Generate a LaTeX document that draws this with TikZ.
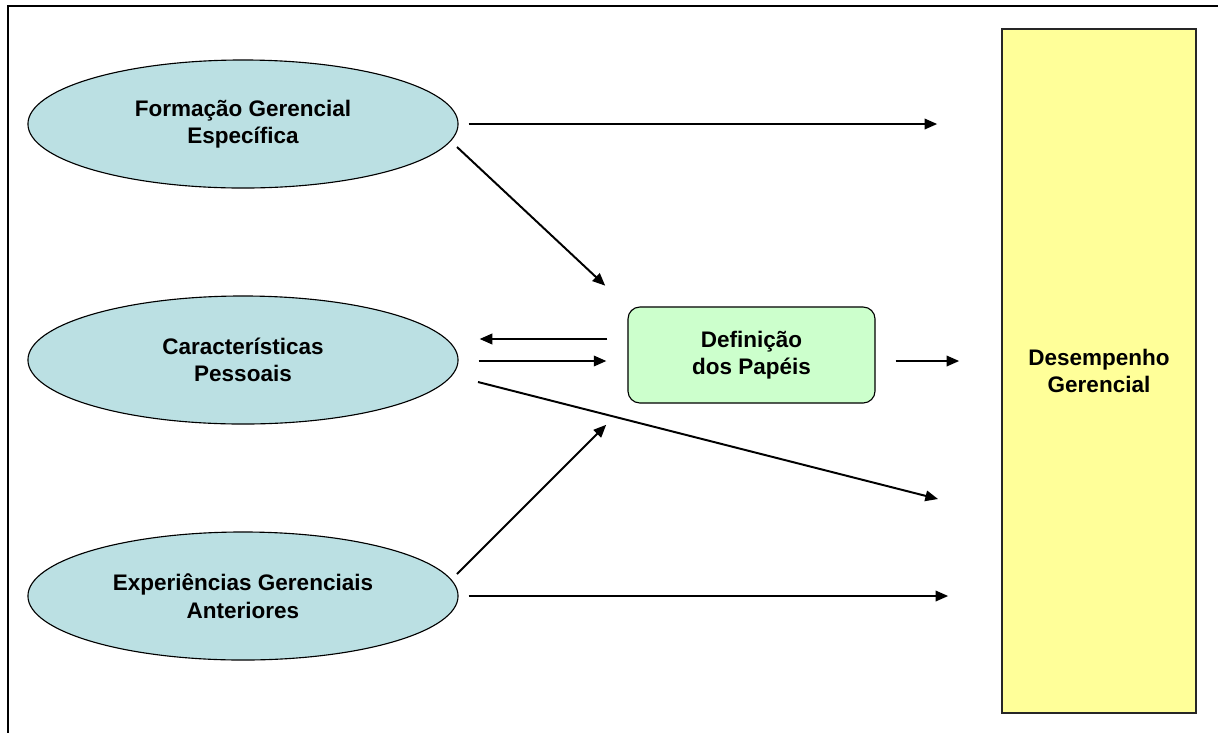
\documentclass[tikz,border=0pt]{standalone}
\usepackage{fontspec}
\setmainfont{Liberation Sans}
\usetikzlibrary{shapes.geometric,arrows.meta,positioning,calc}
\definecolor{elfill}{RGB}{187,224,227}
\definecolor{boxfill}{RGB}{204,255,204}
\definecolor{desfill}{RGB}{255,255,153}

\begin{document}
\begin{tikzpicture}[
    x=0.025cm,y=-0.025cm,
    fator/.style={ellipse,draw=black,line width=0.8pt,fill=elfill,
                  minimum width=10.75cm,minimum height=3.2cm,inner sep=0pt,
                  align=center,font=\fontsize{16}{19.5}\selectfont\bfseries},
    papel/.style={draw=black,line width=0.8pt,fill=boxfill,rounded corners=0.3cm,
                  minimum width=6.175cm,minimum height=2.4cm,align=center,
                  font=\fontsize{16}{19.5}\selectfont\bfseries},
    result/.style={draw=black!85,line width=1.1pt,fill=desfill,
                   minimum width=4.85cm,minimum height=17.1cm,align=center,
                   font=\fontsize{16}{19.5}\selectfont\bfseries},
    arr/.style={-{Triangle[length=9pt,width=7.5pt]},line width=1.4pt,black}
  ]
    \useasboundingbox (0,0) rectangle (1218,733);
    \draw[line width=1.6pt] (1218,6) -- (8,6) -- (8,733);

    \node[fator] (form) at (243,124) {Formação Gerencial\\Específica};
    \node[fator] (carac) at (243,360) {Características\\Pessoais};
    \node[fator] (exper) at (243,596) {Experiências Gerenciais\\Anteriores};
    \node[papel] (defin) at (751.5,355) {Definição\\dos Papéis};
    \node[result] (desemp) at (1099,371) {Desempenho\\Gerencial};

    % pontas soltas das setas diagonais
    \coordinate (formsai) at (457,147);
    \coordinate (caracsai) at (478,382);
    \coordinate (caracfim) at (938,499);
    \coordinate (expersai) at (457,574);

    \draw[arr,shorten <=0.25cm,shorten >=1.6cm] (form.east) -- (form.east -| desemp.west);
    \draw[arr,shorten >=0.76cm] (formsai) -- (defin.north west);
    \draw[arr,shorten <=0.5cm,shorten >=0.525cm]
      ([yshift=0.4cm]defin.west) -- ([yshift=0.4cm]defin.west -| carac.east);
    \draw[arr,shorten <=0.5cm,shorten >=0.525cm]
      ([yshift=-0.15cm]defin.west -| carac.east) -- ([yshift=-0.15cm]defin.west);
    \draw[arr,shorten <=0.5cm,shorten >=1.05cm]
      ([yshift=-0.15cm]defin.east) -- ([yshift=-0.15cm]defin.east -| desemp.west);
    \draw[arr] (caracsai) -- (caracfim);
    \draw[arr,shorten >=0.75cm] (expersai) -- (defin.south west);
    \draw[arr,shorten <=0.25cm,shorten >=1.325cm] (exper.east) -- (exper.east -| desemp.west);
  \end{tikzpicture}
\end{document}
